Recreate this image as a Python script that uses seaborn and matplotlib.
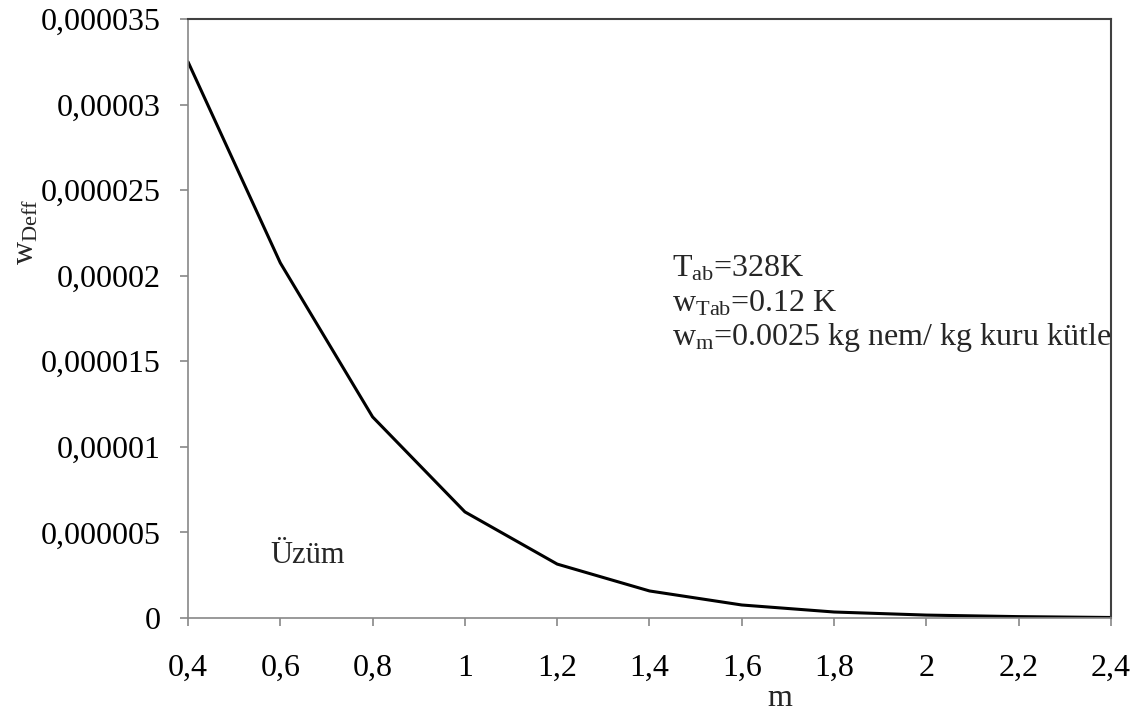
import matplotlib
matplotlib.use("Agg")
import matplotlib.pyplot as plt
import seaborn as sns
import pandas as pd

m_values = [0.4, 0.6, 0.8, 1.0, 1.2, 1.4, 1.6, 1.8, 2.0, 2.2, 2.4]
w_deff = [32.5e-6, 20.75e-6, 11.75e-6, 6.2e-6, 3.15e-6, 1.58e-6,
          0.76e-6, 0.35e-6, 0.17e-6, 0.08e-6, 0.03e-6]
x_ticks = [0.4, 0.6, 0.8, 1.0, 1.2, 1.4, 1.6, 1.8, 2.0, 2.2, 2.4]
x_tick_labels = ["0,4", "0,6", "0,8", "1", "1,2", "1,4", "1,6", "1,8", "2", "2,2", "2,4"]
y_ticks = [0, 5e-6, 10e-6, 15e-6, 20e-6, 25e-6, 30e-6, 35e-6]
y_tick_labels = ["0", "0,000005", "0,00001", "0,000015", "0,00002",
                 "0,000025", "0,00003", "0,000035"]

sns.set_theme(style="white")
plt.rcParams["font.family"] = ["Liberation Serif", "DejaVu Serif"]
plt.rcParams["mathtext.fontset"] = "custom"
plt.rcParams["mathtext.rm"] = "Liberation Serif"
plt.rcParams["mathtext.it"] = "Liberation Serif:italic"

df = pd.DataFrame({"m": m_values, "w": w_deff})

fig = plt.figure(figsize=(11.48, 7.15), dpi=100)
ax = fig.add_axes([188 / 1148, 1 - 618 / 715, (1111 - 188) / 1148, (618 - 19) / 715])
sns.lineplot(data=df, x="m", y="w", ax=ax, color="black", linewidth=2.2)

ax.set_xlim(0.4, 2.4)
ax.set_ylim(0, 35e-6)
ax.set_xticks(x_ticks)
ax.set_xticklabels(x_tick_labels)
ax.set_yticks(y_ticks)
ax.set_yticklabels(y_tick_labels)
ax.tick_params(axis="both", labelsize=23, colors="#888888", labelcolor="black",
               length=5.8, width=1.2, direction="out")
ax.tick_params(axis="x", pad=20)
ax.tick_params(axis="y", pad=14)
ax.tick_params(bottom=True, left=True)

for side in ["left", "bottom"]:
    ax.spines[side].set_color("#888888")
    ax.spines[side].set_linewidth(1.2)
for side in ["top", "right"]:
    ax.spines[side].set_color("#404040")
    ax.spines[side].set_linewidth(1.5)

ax.set_xlabel("m", fontsize=23)
ax.xaxis.set_label_coords(0.641, -0.111)
ax.set_ylabel(r"w$_{\mathrm{Deff}}$", fontsize=23)
ax.yaxis.set_label_coords(-0.160, 0.644)

ax.text(1.449, 19.93e-6, r"T$_{\mathrm{ab}}$=328K", fontsize=23, va="baseline")
ax.text(1.449, 17.88e-6, r"w$_{\mathrm{Tab}}$=0.12 K", fontsize=23, va="baseline")
ax.text(1.449, 15.95e-6, r"w$_{\mathrm{m}}$=0.0025 kg nem/ kg kuru kütle", fontsize=23, va="baseline")
ax.text(0.578, 3.21e-6, "Üzüm", fontsize=22, va="baseline")

fig.savefig("out.png", dpi=100)
